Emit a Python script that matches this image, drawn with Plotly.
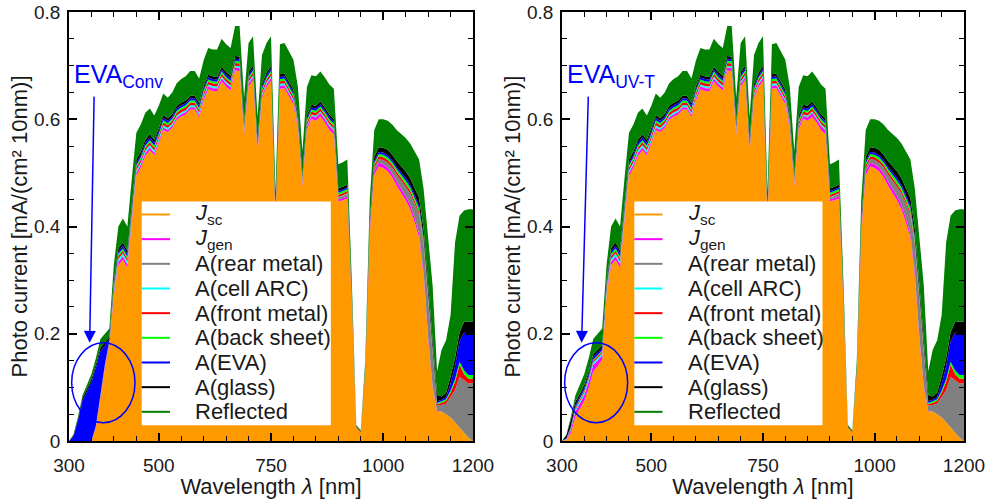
import plotly.graph_objects as go

# ---------------- data (photo current per 10 nm, mA/cm^2) ----------------
WAVELENGTH = list(range(300, 1201, 10))

# 300-390 nm, EVA conventional (UV absorbing)
JSC_UV_CONV    = [0, 0, 0, 0, 0, 0, .025, .08, .135, .18]
RECOMB_UV_CONV = [0, 0, 0, 0, 0, 0, .002, .003, .003, .003]
REAR_UV_CONV   = [0, 0, 0, 0, 0, 0, 0, 0, 0, 0]
ARC_UV_CONV    = [0, 0, 0, 0, 0, 0, .001, .001, .002, .002]
FRONT_UV_CONV  = [0, 0, 0, 0, 0, 0, .001, .001, .002, .002]
BACK_UV_CONV   = [0, 0, 0, 0, 0, 0, 0, .001, .001, .001]
EVA_UV_CONV    = [0, .009, .038, .075, .092, .11, .108, .082, .035, .002]
GLASS_UV_CONV  = [0, .002, .004, .005, .005, .005, .006, .006, .006, .004]
REFL_UV_CONV   = [0, .001, .003, .005, .008, .01, .012, .016, .016, .016]

# 300-390 nm, EVA UV-transparent
JSC_UV_UVT    = [0, .002, .015, .045, .06, .075, .10, .13, .14, .152]
RECOMB_UV_UVT = [0, .001, .006, .01, .01, .011, .011, .012, .01, .008]
REAR_UV_UVT   = [0, 0, 0, 0, 0, 0, 0, 0, 0, 0]
ARC_UV_UVT    = [0, .001, .002, .003, .004, .004, .004, .005, .005, .004]
FRONT_UV_UVT  = [0, 0, .001, .002, .003, .003, .003, .003, .003, .003]
BACK_UV_UVT   = [0, 0, .001, .002, .002, .002, .002, .002, .002, .002]
EVA_UV_UVT    = [0, .001, .003, .004, .004, .005, .005, .005, .005, .004]
GLASS_UV_UVT  = [0, .006, .012, .007, .005, .005, .005, .005, .005, .005]
REFL_UV_UVT   = [0, .001, .005, .012, .017, .02, .025, .028, .03, .032]

# 400-1200 nm (common to both modules)
JSC_VIS = [.272, .328, .338, .323, .410, .495, .510, .532, .542, .533,
           .555, .580, .576, .584, .599, .605, .609, .618, .618, .604,
           .635, .656, .653, .652, .671, .661, .654, .691, .690, .571,
           .661, .673, .537, .640, .660, .672, .413, .657, .658, .642,
           .628, .582, .475, .581, .601, .597, .605, .594, .580, .572,
           .447, .449, .452, .258, .025, .017, .128, .385, .496, .512,
           .509, .503, .492, .476, .463, .449, .432, .408, .379, .307,
           .191, .100, .055, .055, .050, .044, .035, .025, .015, .006,
           .000]
RECOMB_VIS = [.005, .006, .006, .006, .006, .005, .005, .005, .005, .004,
              .004, .004, .004, .004, .004, .004, .004, .004, .004, .004,
              .005, .005, .005, .005, .005, .005, .005, .005, .005, .004,
              .005, .005, .004, .004, .005, .005, .003, .005, .005, .005,
              .005, .005, .004, .005, .005, .006, .006, .006, .006, .006,
              .004, .004, .004, .002, 0, 0, .002, .005, .007, .007,
              .007, .007, .007, .008, .008, .008, .008, .008, .008, .007,
              .005, .003, .001, 0, 0, 0, 0, 0, 0, 0,
              0]
REAR_VIS = [.001, .001, .001, .001, .001, .001, .001, .001, .001, .001,
            .001, .001, .001, .001, .001, .001, .001, .001, .001, .001,
            .001, .001, .001, .001, .001, .001, .001, .001, .001, .001,
            .001, .001, .001, .001, .001, .001, .001, .001, .001, .001,
            .001, .001, .001, .001, .001, .002, .002, .002, .003, .003,
            .003, .004, .005, .002, 0, 0, .001, .004, .006, .007,
            .008, .009, .011, .013, .015, .018, .022, .027, .035, .050,
            .070, .060, .010, .012, .020, .038, .060, .095, .098, .101,
            .108]
ARC_VIS = [.005, .005, .005, .005, .005, .004, .004, .004, .004, .004,
           .004, .004, .003, .003, .003, .003, .003, .003, .003, .003,
           .003, .003, .003, .003, .003, .003, .003, .003, .003, .003,
           .003, .003, .003, .003, .003, .003, .002, .003, .003, .003,
           .003, .002, .002, .002, .002, .002, .002, .002, .002, .002,
           .001, .001, .001, .001, 0, 0, 0, 0, 0, 0,
           0, 0, 0, 0, 0, 0, 0, 0, 0, 0,
           0, 0, 0, 0, 0, 0, 0, 0, 0, 0,
           0]
FRONT_VIS = [.004, .005, .005, .005, .005, .005, .005, .005, .005, .005,
             .005, .005, .005, .005, .005, .005, .005, .005, .005, .005,
             .005, .005, .005, .005, .005, .005, .005, .005, .005, .004,
             .005, .005, .004, .005, .005, .005, .003, .005, .005, .005,
             .005, .005, .004, .005, .005, .005, .005, .005, .005, .005,
             .004, .004, .004, .003, .001, 0, .001, .004, .005, .005,
             .005, .005, .005, .005, .005, .005, .005, .005, .005, .005,
             .005, .005, .003, .004, .005, .008, .015, .022, .012, .009,
             .008]
BACK_VIS = [.003, .004, .004, .004, .004, .004, .004, .004, .004, .004,
            .004, .004, .004, .004, .004, .004, .004, .004, .004, .004,
            .004, .004, .004, .004, .004, .004, .004, .004, .004, .003,
            .004, .004, .003, .004, .004, .004, .002, .004, .004, .004,
            .004, .004, .003, .004, .004, .004, .004, .004, .004, .004,
            .004, .004, .004, .002, 0, 0, .001, .003, .004, .004,
            .005, .005, .005, .005, .006, .006, .006, .006, .007, .007,
            .006, .005, .002, .003, .003, .004, .005, .006, .007, .007,
            .007]
EVA_VIS = [.004, .005, .005, .005, .005, .005, .005, .005, .005, .005,
           .005, .005, .004, .004, .004, .004, .004, .004, .004, .004,
           .004, .004, .004, .004, .004, .004, .004, .004, .004, .004,
           .004, .004, .003, .004, .004, .004, .003, .004, .004, .004,
           .004, .004, .003, .004, .004, .004, .004, .004, .004, .004,
           .003, .003, .003, .002, 0, 0, .001, .003, .004, .004,
           .004, .004, .004, .004, .004, .005, .005, .005, .005, .005,
           .005, .005, .003, .003, .004, .013, .025, .038, .070, .078,
           .078]
GLASS_VIS = [.006, .006, .006, .006, .006, .006, .006, .006, .006, .006,
             .005, .005, .005, .005, .005, .005, .005, .005, .005, .005,
             .005, .005, .005, .005, .005, .005, .005, .005, .005, .004,
             .005, .005, .004, .005, .005, .005, .003, .005, .005, .005,
             .005, .005, .004, .005, .005, .005, .005, .005, .005, .005,
             .005, .005, .005, .003, .001, .001, .002, .006, .008, .009,
             .009, .010, .010, .011, .011, .012, .012, .013, .014, .014,
             .013, .012, .012, .006, .008, .013, .015, .017, .020, .022,
             .022]
REFL_VIS = [.030, .040, .045, .045, .048, .050, .050, .050, .048, .045,
            .042, .040, .038, .040, .042, .044, .045, .046, .046, .046,
            .048, .050, .050, .051, .052, .052, .052, .056, .057, .046,
            .054, .055, .045, .054, .055, .056, .035, .056, .057, .056,
            .056, .052, .044, .053, .055, .055, .056, .056, .056, .056,
            .045, .046, .047, .027, .003, .002, .014, .040, .050, .052,
            .053, .054, .056, .058, .060, .062, .065, .068, .072, .075,
            .085, .100, .044, .087, .098, .115, .215, .217, .208, .209,
            .209]

LAYER_NAMES = ["<i>J</i><sub>sc</sub>", "<i>J</i><sub>gen</sub>", "A(rear metal)",
               "A(cell ARC)", "A(front metal)", "A(back sheet)", "A(EVA)",
               "A(glass)", "Reflected"]
LAYER_COLORS = ["#FF9900", "#FF00FF", "#808080", "#00FFFF", "#FF0000",
                "#00FF00", "#0000FF", "#000000", "#007F00"]

PANELS = {
    "conv": [JSC_UV_CONV + JSC_VIS, RECOMB_UV_CONV + RECOMB_VIS, REAR_UV_CONV + REAR_VIS,
             ARC_UV_CONV + ARC_VIS, FRONT_UV_CONV + FRONT_VIS, BACK_UV_CONV + BACK_VIS,
             EVA_UV_CONV + EVA_VIS, GLASS_UV_CONV + GLASS_VIS, REFL_UV_CONV + REFL_VIS],
    "uvt": [JSC_UV_UVT + JSC_VIS, RECOMB_UV_UVT + RECOMB_VIS, REAR_UV_UVT + REAR_VIS,
            ARC_UV_UVT + ARC_VIS, FRONT_UV_UVT + FRONT_VIS, BACK_UV_UVT + BACK_VIS,
            EVA_UV_UVT + EVA_VIS, GLASS_UV_UVT + GLASS_VIS, REFL_UV_UVT + REFL_VIS],
}

FONT = "Arial, Liberation Sans, sans-serif"
TXT = "#1a1a1a"
fig = go.Figure()

for key, xa, ya in [("conv", "x", "y"), ("uvt", "x2", "y2")]:
    for name, color, vals in zip(LAYER_NAMES, LAYER_COLORS, PANELS[key]):
        fig.add_trace(go.Scatter(
            x=WAVELENGTH, y=vals, mode="lines", stackgroup=key, name=name,
            line=dict(width=0, color=color), fillcolor=color,
            showlegend=False, xaxis=xa, yaxis=ya, hoverinfo="skip"))

axis_common = dict(showline=True, linecolor="black", linewidth=1.5, mirror="ticks",
                   ticks="inside", ticklen=8, tickwidth=1.5, tickcolor="black",
                   showgrid=False, zeroline=False, automargin=False,
                   tickfont=dict(size=19, color=TXT, family=FONT))
xaxis_cfg = dict(axis_common, range=[300, 1200], tickvals=[300, 500, 750, 1000, 1200],
                 ticktext=["300", "500", "750", "1000", "1200"],
                 minor=dict(ticks="inside", ticklen=5, tickwidth=1.2, tickcolor="black",
                            tick0=300, dtick=50),
                 title=dict(text="Wavelength <i>λ</i> [nm]", font=dict(size=22, color=TXT, family=FONT),
                            standoff=3),
                 ticklabelstandoff=6)
yaxis_cfg = dict(axis_common, range=[0, 0.8], tick0=0, dtick=0.2,
                 minor=dict(ticks="inside", ticklen=5, tickwidth=1.2, tickcolor="black",
                            tick0=0, dtick=0.05),
                 title=dict(text="Photo current [mA/(cm² 10nm)]",
                            font=dict(size=22, color=TXT, family=FONT), standoff=0),
                 ticklabelstandoff=3)

fig.update_layout(
    width=992, height=499,
    margin=dict(l=69, r=28, t=12, b=58),
    paper_bgcolor="white", plot_bgcolor="white", showlegend=False,
    font=dict(family=FONT, size=19, color=TXT),
    xaxis=dict(xaxis_cfg, domain=[0, 0.4514], anchor="y"),
    yaxis=dict(yaxis_cfg, anchor="x"),
    xaxis2=dict(xaxis_cfg, domain=[0.5508, 1], anchor="y2"),
    yaxis2=dict(yaxis_cfg, anchor="x2"),
)

# legend box drawn inside each panel (axis-domain coordinates)
LEG_BOX = dict(x0=0.18, x1=0.648, y0=0.037, y1=0.558)
LEG_ROW0, LEG_ROWSTEP = 0.528, 0.0575
for xr, yr in [("x", "y"), ("x2", "y2")]:
    xd, yd = xr + " domain", yr + " domain"
    fig.add_shape(type="rect", xref=xd, yref=yd, fillcolor="white",
                  line=dict(width=0), layer="above", **LEG_BOX)
    for i, (name, color) in enumerate(zip(LAYER_NAMES, LAYER_COLORS)):
        yy = LEG_ROW0 - i * LEG_ROWSTEP
        fig.add_shape(type="line", xref=xd, yref=yd, x0=0.18, x1=0.25, y0=yy, y1=yy,
                      line=dict(color=color, width=2), layer="above")
        fig.add_annotation(xref=xd, yref=yd, x=0.308, y=yy, text=name, showarrow=False,
                           xanchor="left", yanchor="middle",
                           font=dict(size=22, color=TXT, family=FONT))

for xr, yr, label, tail_x, tip_x in [("x", "y", "EVA<sub>Conv</sub>", 356, 346),
                                     ("x2", "y2", "EVA<sub>UV-T</sub>", 359, 344)]:
    fig.add_annotation(x=306, y=0.68, xref=xr, yref=yr, text=label, showarrow=False,
                       xanchor="left", yanchor="middle",
                       font=dict(size=25, color="#0000FF", family=FONT))
    fig.add_annotation(x=tip_x, y=0.183, ax=tail_x, ay=0.645, xref=xr, yref=yr,
                       axref=xr, ayref=yr, text="", showarrow=True,
                       arrowhead=2, arrowsize=1.6, arrowwidth=1.5, arrowcolor="#0000FF")
    fig.add_shape(type="circle", xref=xr, yref=yr, x0=306, x1=447, y0=0.034, y1=0.183,
                  line=dict(color="#0000FF", width=1.5), layer="above")

# remove the default 8 px page margin so the figure fills the window exactly
fig.write_html("out.html", config={"displayModeBar": False},
               post_script="document.body.style.margin='0px';")
